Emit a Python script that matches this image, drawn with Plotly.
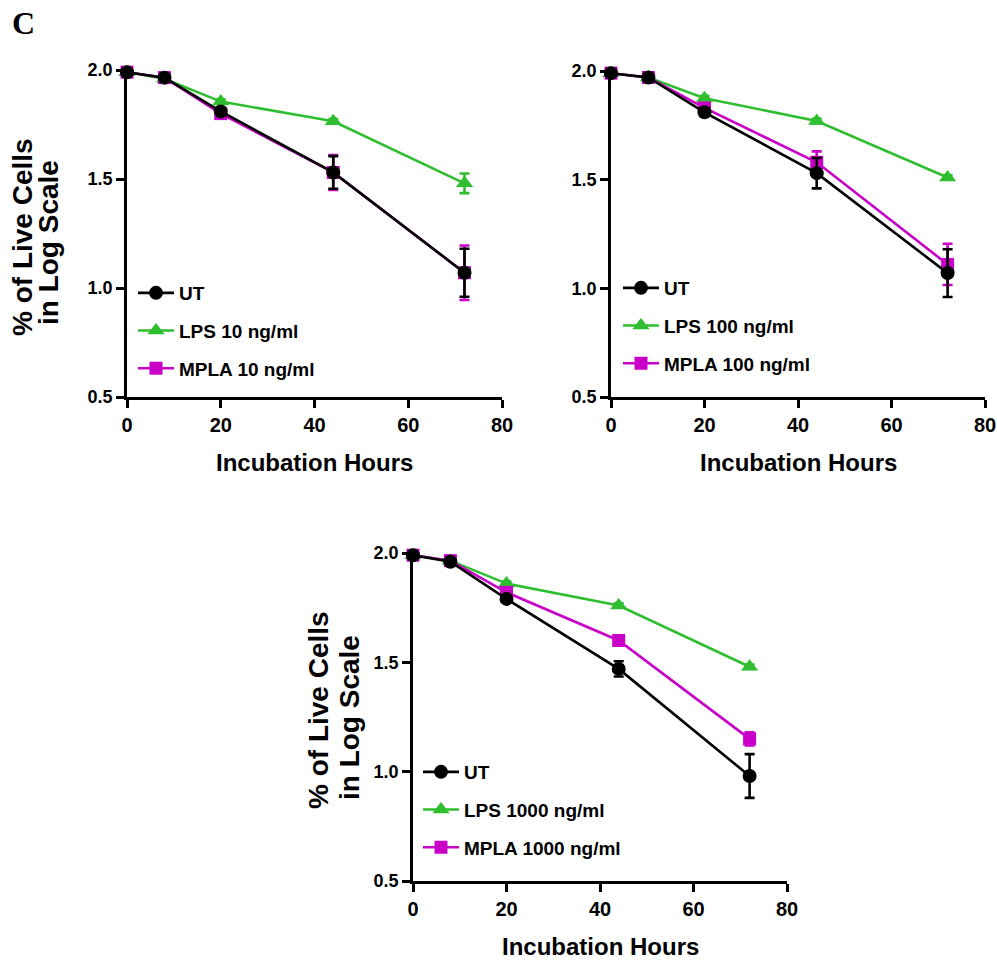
import plotly.graph_objects as go

W, H = 997, 962

hours = [0, 8, 20, 44, 72]

# Panel A (10 ng/ml)
ut_10 = [1.99, 1.965, 1.81, 1.53, 1.07]
ut_10_err = [0.01, 0.01, 0.015, 0.075, 0.11]
lps_10 = [1.99, 1.96, 1.855, 1.765, 1.48]
lps_10_err = [0.01, 0.01, 0.01, 0.01, 0.045]
mpla_10 = [1.99, 1.965, 1.80, 1.53, 1.07]
mpla_10_err = [0.01, 0.01, 0.015, 0.08, 0.125]

# Panel B (100 ng/ml)
ut_100 = [1.99, 1.97, 1.81, 1.53, 1.07]
ut_100_err = [0.01, 0.01, 0.01, 0.07, 0.11]
lps_100 = [1.99, 1.97, 1.875, 1.77, 1.51]
lps_100_err = [0.01, 0.01, 0.01, 0.01, 0.01]
mpla_100 = [1.99, 1.97, 1.83, 1.58, 1.11]
mpla_100_err = [0.01, 0.01, 0.01, 0.05, 0.095]

# Panel C (1000 ng/ml)
ut_1000 = [1.99, 1.96, 1.79, 1.47, 0.98]
ut_1000_err = [0.01, 0.01, 0.01, 0.035, 0.10]
lps_1000 = [1.99, 1.965, 1.86, 1.76, 1.48]
lps_1000_err = [0.01, 0.01, 0.01, 0.01, 0.01]
mpla_1000 = [1.99, 1.965, 1.82, 1.60, 1.15]
mpla_1000_err = [0.01, 0.01, 0.01, 0.02, 0.03]

x_ticks = [0, 20, 40, 60, 80]
x_tick_labels = ["0", "20", "40", "60", "80"]
y_ticks = [0.5, 1.0, 1.5, 2.0]
y_tick_labels = ["0.5", "1.0", "1.5", "2.0"]

doses = ["10 ng/ml", "100 ng/ml", "1000 ng/ml"]

BLACK = "#000000"
GREEN = "#2FBE2F"
MAGENTA = "#C800C8"

SANS = "Liberation Sans, Arial, sans-serif"

panels = [
    dict(ut=ut_10, ute=ut_10_err, lps=lps_10, lpse=lps_10_err, mpla=mpla_10, mplae=mpla_10_err, dose=doses[0]),
    dict(ut=ut_100, ute=ut_100_err, lps=lps_100, lpse=lps_100_err, mpla=mpla_100, mplae=mpla_100_err, dose=doses[1]),
    dict(ut=ut_1000, ute=ut_1000_err, lps=lps_1000, lpse=lps_1000_err, mpla=mpla_1000, mplae=mpla_1000_err, dose=doses[2]),
]

# plot-area pixel boxes (left, right, top, bottom)
boxes = [(127, 502, 70, 397), (611, 985, 71, 397), (413, 787, 553, 881)]
legend_pos = [(133, 274), (618, 269), (418, 753)]

fig = go.Figure()

for i, p in enumerate(panels):
    n = "" if i == 0 else str(i + 1)
    xa, ya = "x" + n, "y" + n
    leg = "legend" + n
    series = [
        ("LPS " + p["dose"], p["lps"], p["lpse"], GREEN, "triangle-up", 15, 2),
        ("MPLA " + p["dose"], p["mpla"], p["mplae"], MAGENTA, "square", 13, 3),
        ("UT", p["ut"], p["ute"], BLACK, "circle", 14, 1),
    ]
    for name, vals, errs, col, sym, size, rank in series:
        fig.add_trace(go.Scatter(
            x=hours, y=vals, name=name, mode="lines+markers",
            line=dict(color=col, width=2.6),
            marker=dict(color=col, symbol=sym, size=size, line=dict(width=0)),
            error_y=dict(type="data", array=errs, visible=True, color=col, thickness=2.6, width=5),
            xaxis=xa, yaxis=ya, legend=leg, legendrank=rank,
            legendgroup=f"{i}-{rank}", cliponaxis=False,
        ))

layout = dict(
    width=W, height=H, autosize=False,
    margin=dict(l=0, r=0, t=0, b=0, pad=0, autoexpand=False),
    paper_bgcolor="white", plot_bgcolor="white",
    showlegend=True,
)

annotations = []
for i, (l, r, t, b) in enumerate(boxes):
    n = "" if i == 0 else str(i + 1)
    layout["xaxis" + n] = dict(
        domain=[l / W, r / W], range=[0, 80], anchor="y" + n,
        showline=True, linecolor="black", linewidth=2.6, mirror=False,
        ticks="outside", ticklen=8, tickwidth=2.6, tickcolor="black",
        tickvals=x_ticks, ticktext=x_tick_labels,
        tickfont=dict(family=SANS, size=20, color="black", weight=700),
        showgrid=False, zeroline=False, fixedrange=True, automargin=False,
    )
    layout["yaxis" + n] = dict(
        domain=[1 - b / H, 1 - t / H], range=[0.5, 2.0], anchor="x" + n,
        showline=True, linecolor="black", linewidth=2.6, mirror=False,
        ticks="outside", ticklen=8, tickwidth=2.6, tickcolor="black",
        tickvals=y_ticks, ticktext=y_tick_labels,
        tickfont=dict(family=SANS, size=18, color="black", weight=700),
        showgrid=False, zeroline=False, fixedrange=True, automargin=False,
    )
    lx, ly = legend_pos[i]
    layout["legend" + n] = dict(
        x=lx / W, y=1 - ly / H, xanchor="left", yanchor="top",
        bgcolor="rgba(0,0,0,0)", borderwidth=0,
        font=dict(family=SANS, size=19, color="black", weight=700),
        traceorder="grouped", tracegroupgap=10, itemwidth=36,
    )
    annotations.append(dict(
        text="Incubation Hours", x=(l + r) / 2 / W, y=1 - (b + 65) / H,
        xref="paper", yref="paper", xanchor="center", yanchor="middle", showarrow=False,
        font=dict(family=SANS, size=24, color="black", weight=700),
    ))

# y-axis titles (panels 1 and 3): (x line1, y line1, x line2, y line2)
for (cx1, cy1, cx2, cy2) in [(22, 237, 49, 243), (318, 710, 349, 718)]:
    annotations.append(dict(
        text="% of Live Cells", x=cx1 / W, y=1 - cy1 / H, xref="paper", yref="paper",
        xanchor="center", yanchor="middle", showarrow=False, textangle=-90,
        font=dict(family=SANS, size=28, color="black", weight=700),
    ))
    annotations.append(dict(
        text="in Log Scale", x=cx2 / W, y=1 - cy2 / H, xref="paper", yref="paper",
        xanchor="center", yanchor="middle", showarrow=False, textangle=-90,
        font=dict(family=SANS, size=28, color="black", weight=700),
    ))

annotations.append(dict(
    text="C", x=23 / W, y=1 - 23 / H, xref="paper", yref="paper",
    xanchor="center", yanchor="middle", showarrow=False,
    font=dict(family="Liberation Serif, Times New Roman, serif", size=32, color="black", weight=700),
))

layout["annotations"] = annotations
fig.update_layout(**layout)
fig.write_html(
    "out.html",
    config={"displayModeBar": False},
    post_script="document.body.style.margin='0';document.body.style.overflow='hidden';",
)
